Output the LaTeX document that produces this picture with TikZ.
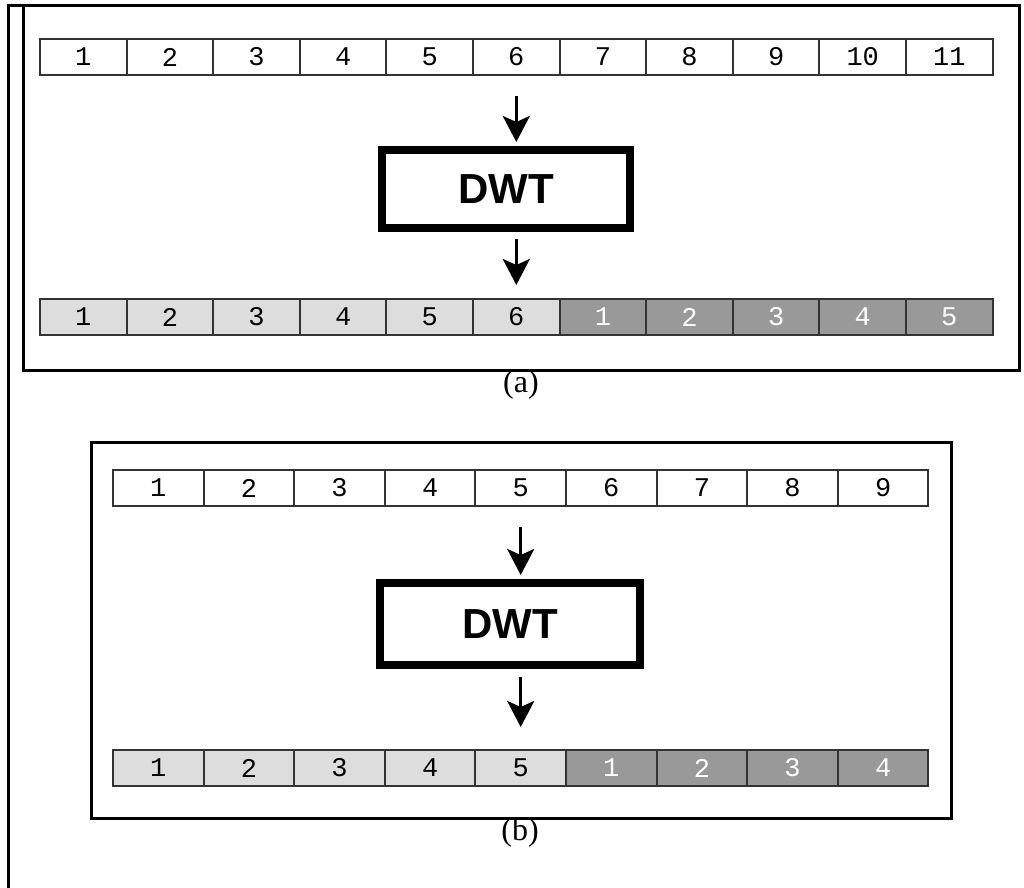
\documentclass[tikz,border=0pt]{standalone}
\usepackage{fontspec}
\setmainfont{Liberation Serif}
\newfontfamily\cellfont{Liberation Mono}
\newfontfamily\boxfont{Liberation Sans}
\usetikzlibrary{arrows.meta}
\definecolor{lowband}{HTML}{DDDDDD}
\definecolor{highband}{HTML}{999999}
\definecolor{cellline}{HTML}{333333}
\tikzset{
  cell/.style={draw=cellline,line width=1pt,inner sep=0pt,minimum height=18pt,
               font=\cellfont\fontsize{13.5}{13.5}\selectfont},
  lowcell/.style={cell,fill=lowband},
  highcell/.style={cell,fill=highband,text=white},
  dwtbox/.style={draw,line width=4pt,inner sep=0pt,
                 font=\boxfont\bfseries\fontsize{21}{21}\selectfont},
  flow/.style={-{Stealth[length=13pt,width=13.5pt,inset=3pt]},line width=1.6pt},
  frame/.style={line width=1.5pt},
  caption/.style={font=\fontsize{16}{16}\selectfont}
}

\begin{document}
\begin{tikzpicture}[x=0.5pt,y=-0.5pt]
  \useasboundingbox (0,0) rectangle (1024,888);

  % outer border and the two panels
  \draw[frame] (8,888) -- (8,6) -- (23,6);
  \draw[frame] (23,6) rectangle (1019,370);
  \draw[frame] (91,442) rectangle (951,818);

  % (a): 11 samples
  \foreach \i in {1,...,11}
    \node[cell,minimum width=43.3pt] (a-in-\i) at ({40+86.6*(\i-0.5)},57) {\i};
  \node[dwtbox,minimum width=124pt,minimum height=39pt] (dwt-a) at (506,189) {DWT};
  \foreach \i in {1,...,6}
    \node[lowcell,minimum width=43.3pt] (a-out-\i) at ({40+86.6*(\i-0.5)},317) {\i};
  \foreach \j [evaluate=\j as \k using int(\j+6)] in {1,...,5}
    \node[highcell,minimum width=43.3pt] (a-out-\k) at ({40+86.6*(\k-0.5)},317) {\j};
  \draw[flow,shorten <=10pt,shorten >=2pt] (a-in-6) -- (dwt-a.north -| a-in-6);
  \draw[flow,shorten <=3.5pt,shorten >=6.5pt] (dwt-a.south -| a-out-6) -- (a-out-6);
  \node[caption] (cap-a) at (521,385) {(a)};

  % (b): 9 samples
  \foreach \i in {1,...,9}
    \node[cell,minimum width=45.3pt] (b-in-\i) at ({113+90.6*(\i-0.5)},488) {\i};
  \node[dwtbox,minimum width=130pt,minimum height=41pt] (dwt-b) at (510,624) {DWT};
  \foreach \i in {1,...,5}
    \node[lowcell,minimum width=45.3pt] (b-out-\i) at ({113+90.6*(\i-0.5)},768) {\i};
  \foreach \j [evaluate=\j as \k using int(\j+5)] in {1,...,4}
    \node[highcell,minimum width=45.3pt] (b-out-\k) at ({113+90.6*(\k-0.5)},768) {\j};
  \draw[flow,shorten <=10pt,shorten >=2pt] (b-in-5) -- (dwt-b.north -| b-in-5);
  \draw[flow,shorten <=4pt,shorten >=11pt] (dwt-b.south -| b-out-5) -- (b-out-5);
  \node[caption] (cap-b) at (520,833) {(b)};
\end{tikzpicture}
\end{document}
